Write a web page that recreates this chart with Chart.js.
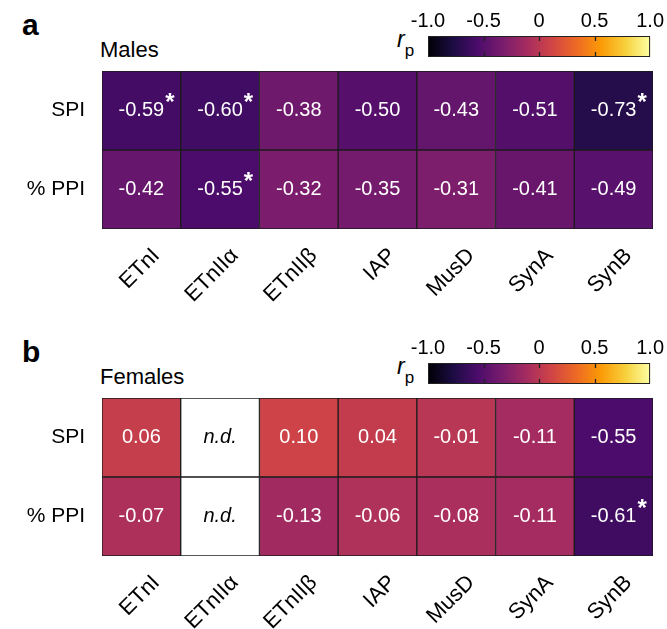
<!DOCTYPE html>
<html>
<head>
<meta charset="utf-8">
<script src="https://cdn.jsdelivr.net/npm/chart.js@4.4.1/dist/chart.umd.min.js"></script>
<style>
  body { margin: 0; background: #fff; font-family: "Liberation Sans", Arial, sans-serif; }
  #wrap { position: relative; width: 667px; height: 629px; overflow: hidden; }
  .panel { position: absolute; left: 0; width: 667px; height: 302px; }
  .panel canvas { position: absolute; }
  .letter { position: absolute; left: 22px; top: 8px; font-size: 30px; font-weight: bold; }
  .title { position: absolute; left: 100px; top: 37px; font-size: 22px; }
  .rp { position: absolute; left: 397px; top: 28px; font-size: 23px; font-style: italic; line-height: 1; }
  .rp sub { font-style: normal; font-size: 17px; vertical-align: -9px; }
</style>
</head>
<body>
<div id="wrap">
  <div class="panel" style="top:0">
    <div class="letter">a</div>
    <div class="title">Males</div>
    <div class="rp">r<sub>p</sub></div>
    <canvas id="heatA" width="667" height="302" style="left:0;top:0"></canvas>
    <canvas id="barA" width="287" height="60" style="left:380px;top:0"></canvas>
  </div>
  <div class="panel" style="top:327px">
    <div class="letter">b</div>
    <div class="title">Females</div>
    <div class="rp">r<sub>p</sub></div>
    <canvas id="heatB" width="667" height="302" style="left:0;top:0"></canvas>
    <canvas id="barB" width="287" height="60" style="left:380px;top:0"></canvas>
  </div>
</div>
<script>
const elements = ['ETnI', 'ETnIIα', 'ETnIIβ', 'IAP', 'MusD', 'SynA', 'SynB']
const rows = ['% PPI', 'SPI']   // bottom row first
const colorbarTicks = [-1, -0.5, 0, 0.5, 1]

// Pearson r, males
const malesSPI = [-0.59, -0.60, -0.38, -0.50, -0.43, -0.51, -0.73]
const malesPPI = [-0.42, -0.55, -0.32, -0.35, -0.31, -0.41, -0.49]
const malesSPIsig = [true, true, false, false, false, false, true]
const malesPPIsig = [false, true, false, false, false, false, false]

// Pearson r, females (null = not determined)
const femalesSPI = [0.06, null, 0.10, 0.04, -0.01, -0.11, -0.55]
const femalesPPI = [-0.07, null, -0.13, -0.06, -0.08, -0.11, -0.61]
const femalesSPIsig = [false, false, false, false, false, false, false]
const femalesPPIsig = [false, false, false, false, false, false, true]

// inferno colour map
const inferno = ['#000004', '#1B0C42', '#4B0C6B', '#781C6D', '#A52C60',
    '#CF4446', '#ED6925', '#FB9A06', '#F7D03C', '#FCFFA4']

function hexToRgb(h) {
    return [1, 3, 5].map(i => parseInt(h.slice(i, i + 2), 16))
}

function colorFor(r) {
    if (r === null) return '#ffffff'
    const t = Math.min(Math.max((r + 1) / 2, 0), 1) * (inferno.length - 1)
    const i = Math.min(Math.floor(t), inferno.length - 2)
    const f = t - i
    const a = hexToRgb(inferno[i]), b = hexToRgb(inferno[i + 1])
    const c = a.map((v, k) => Math.round(v + (b[k] - v) * f))
    return `rgb(${c[0]},${c[1]},${c[2]})`
}

const cellText = {
    id: 'cellText',
    afterDatasetsDraw(chart) {
        const ctx = chart.ctx
        ctx.save()
        chart.data.datasets.forEach((ds, di) => {
            chart.getDatasetMeta(di).data.forEach((bar, i) => {
                const r = ds.rValues[i]
                const cx = bar.x
                const cy = (bar.y + bar.base) / 2
                ctx.textAlign = 'center'
                ctx.textBaseline = 'middle'
                if (r === null) {
                    ctx.fillStyle = '#000'
                    ctx.font = 'italic 20px "Liberation Sans", Arial'
                    ctx.fillText('n.d.', cx, cy)
                    return
                }
                ctx.fillStyle = '#fff'
                ctx.font = '20px "Liberation Sans", Arial'
                const txt = r.toFixed(2)
                ctx.fillText(txt, cx, cy)
                if (ds.sig[i]) {
                    const w = ctx.measureText(txt).width
                    ctx.font = 'bold 24px "Liberation Sans", Arial'
                    ctx.textAlign = 'left'
                    ctx.textBaseline = 'alphabetic'
                    ctx.fillText('*', cx + w / 2 + 1, cy - 1)
                }
            })
        })
        ctx.restore()
    }
}

function heatmap(id, ppi, spi, ppiSig, spiSig) {
    const ones = elements.map(() => 1)
    const cell = {
        borderColor: '#1b1b1b',
        borderWidth: 1,
        borderSkipped: false,
        barPercentage: 1,
        categoryPercentage: 1,
    }
    return new Chart(document.getElementById(id), {
        type: 'bar',
        data: {
            labels: elements,
            datasets: [
                { ...cell, label: rows[0], data: ones, rValues: ppi, sig: ppiSig,
                  backgroundColor: ctx => colorFor(ppi[ctx.dataIndex]) },
                { ...cell, label: rows[1], data: ones, rValues: spi, sig: spiSig,
                  backgroundColor: ctx => colorFor(spi[ctx.dataIndex]) },
            ]
        },
        options: {
            responsive: false,
            animation: false,
            layout: { padding: { top: 71, right: 14, left: 0, bottom: 0 } },
            plugins: { legend: { display: false }, tooltip: { enabled: false } },
            scales: {
                x: {
                    stacked: true,
                    grid: { display: false, drawTicks: false },
                    border: { display: false },
                    ticks: {
                        color: '#000', font: { size: 22, family: '"Liberation Sans", Arial' },
                        minRotation: 45, maxRotation: 45, autoSkip: false, padding: 14, labelOffset: 15,
                    },
                    afterFit: s => { s.height = 73 },
                },
                y: {
                    stacked: true,
                    min: 0, max: rows.length,
                    grid: { display: false, drawTicks: false },
                    border: { display: false },
                    afterBuildTicks: s => { s.ticks = rows.map((_, i) => ({ value: i + 0.5 })) },
                    ticks: {
                        color: '#000', font: { size: 21, family: '"Liberation Sans", Arial' },
                        padding: 17,
                        callback: v => rows[Math.floor(v)],
                    },
                    afterFit: s => { s.width = 102 },
                }
            }
        },
        plugins: [cellText]
    })
}

const colorbarFill = {
    id: 'colorbarFill',
    beforeDatasetsDraw(chart) {
        const { ctx, chartArea: a } = chart
        const x = chart.scales.x
        const g = ctx.createLinearGradient(a.left, 0, a.right, 0)
        inferno.forEach((c, i) => g.addColorStop(i / (inferno.length - 1), c))
        ctx.save()
        ctx.fillStyle = g
        ctx.fillRect(a.left, a.top, a.width, a.height)
        ctx.strokeStyle = '#222'
        ctx.lineWidth = 1.3
        x.ticks.forEach(t => {
            if (t.value <= -1 || t.value >= 1) return
            const px = Math.round(x.getPixelForValue(t.value)) + 0.5
            ctx.beginPath()
            ctx.moveTo(px, a.top); ctx.lineTo(px, a.top + 5)
            ctx.moveTo(px, a.bottom); ctx.lineTo(px, a.bottom - 5)
            ctx.stroke()
        })
        ctx.lineWidth = 1
        ctx.strokeRect(a.left + 0.5, a.top + 0.5, a.width - 1, a.height - 1)
        ctx.restore()
    }
}

function colorbar(id) {
    return new Chart(document.getElementById(id), {
        type: 'scatter',
        data: { datasets: [] },
        options: {
            responsive: false,
            animation: false,
            layout: { padding: { top: 0, left: 48, right: 15, bottom: 3 } },
            plugins: { legend: { display: false }, tooltip: { enabled: false } },
            scales: {
                x: {
                    type: 'linear', position: 'top',
                    min: colorbarTicks[0], max: colorbarTicks[colorbarTicks.length - 1],
                    afterBuildTicks: s => { s.ticks = colorbarTicks.map(v => ({ value: v })) },
                    grid: { display: false, drawTicks: false },
                    border: { display: false },
                    ticks: {
                        color: '#000', font: { size: 20, family: '"Liberation Sans", Arial' },
                        padding: 3, maxRotation: 0,
                        callback: v => v === 0 ? '0' : v.toFixed(1),
                    },
                    afterFit: s => { s.height = 36 },
                },
                y: { display: false, min: 0, max: 1 }
            }
        },
        plugins: [colorbarFill]
    })
}

heatmap('heatA', malesPPI, malesSPI, malesPPIsig, malesSPIsig)
heatmap('heatB', femalesPPI, femalesSPI, femalesPPIsig, femalesSPIsig)
colorbar('barA')
colorbar('barB')
</script>
</body>
</html>
